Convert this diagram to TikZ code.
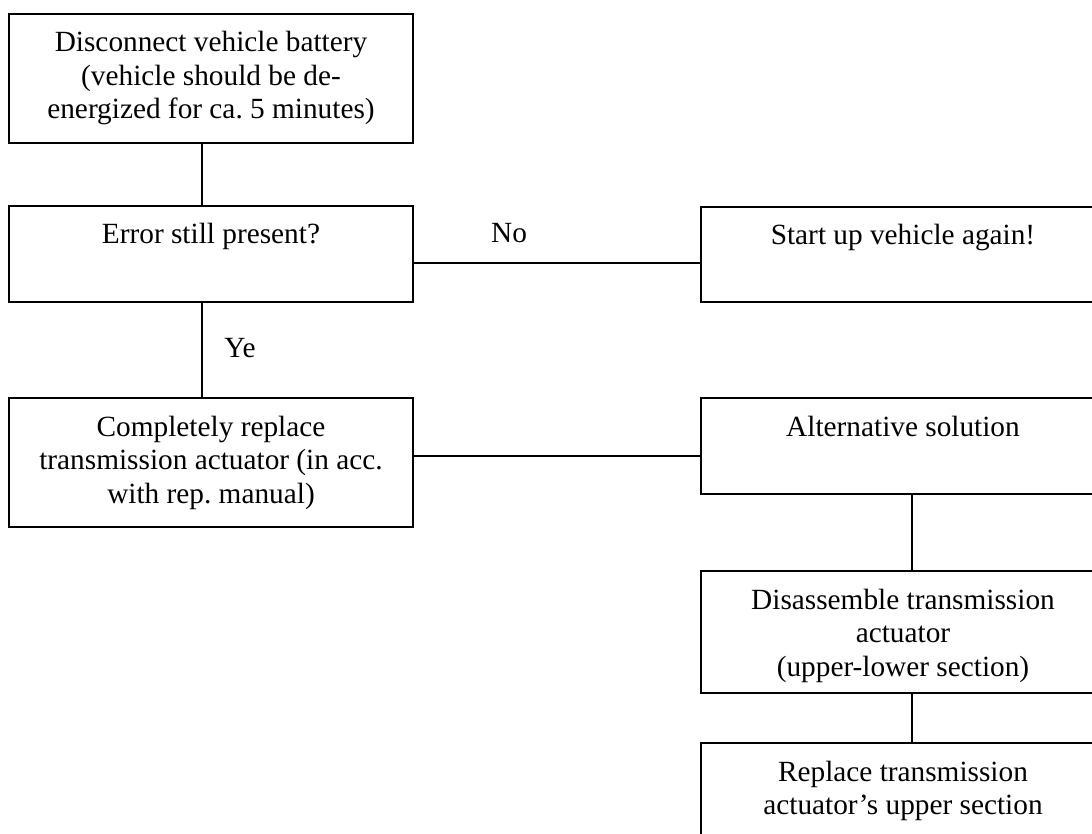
\documentclass[tikz,border=0pt]{standalone}
\usepackage{fontspec}
\setmainfont{Liberation Serif}
\frenchspacing
\newcommand\btext[2]{\parbox[t][#1][t]{404pt}{\centering\rule{0pt}{38pt}#2}}
\tikzset{
  stepbox/.style={draw, line width=2pt, rectangle, anchor=north west, inner sep=0pt, outer sep=0pt,
    font=\fontsize{29.3}{33.5}\selectfont},
  conn/.style={line width=2pt},
  lbl/.style={anchor=base, inner sep=0pt, font=\fontsize{29.3}{33.5}\selectfont}
}
\begin{document}
\begin{tikzpicture}[x=1pt,y=-1pt]
\useasboundingbox (0,0) rectangle (1092,834);
\clip (0,0) rectangle (1092,834);
\node[stepbox] (A) at (9,14) {\btext{129pt}{Disconnect vehicle battery\\(vehicle should be de-\\energized for ca. 5 minutes)}};
\node[stepbox] (B) at (9,206) {\btext{96pt}{Error still present?}};
\node[stepbox] (C) at (701,207) {\btext{95pt}{Start up vehicle again!}};
\node[stepbox] (D) at (9,398) {\btext{129pt}{Completely replace\\transmission actuator (in acc.\\with rep. manual)}};
\node[stepbox] (E) at (701,398) {\btext{96pt}{Alternative solution}};
\node[stepbox] (F) at (701,571) {\btext{122pt}{Disassemble transmission\\actuator\\(upper-lower section)}};
\node[stepbox] (G) at (701,743) {\btext{129pt}{Replace transmission\\actuator’s upper section}};
\coordinate (bc) at ([yshift=-9pt]B.east);
\coordinate (de) at ([yshift=-10pt]E.west);
\draw[conn] ([xshift=-9pt]A.south) -- ([xshift=-9pt]B.north);
\draw[conn] ([xshift=-9pt]B.south) -- ([xshift=-9pt]D.north);
\draw[conn] (bc) -- (bc -| C.west);
\draw[conn] (de -| D.east) -- (de);
\draw[conn] ([xshift=9pt]E.south) -- ([xshift=9pt]F.north);
\draw[conn] ([xshift=9pt]F.south) -- ([xshift=9pt]G.north);
\node[lbl] (no) at (509,243) {No};
\node[lbl] (ye) at (240,357) {Ye};
\end{tikzpicture}
\end{document}
